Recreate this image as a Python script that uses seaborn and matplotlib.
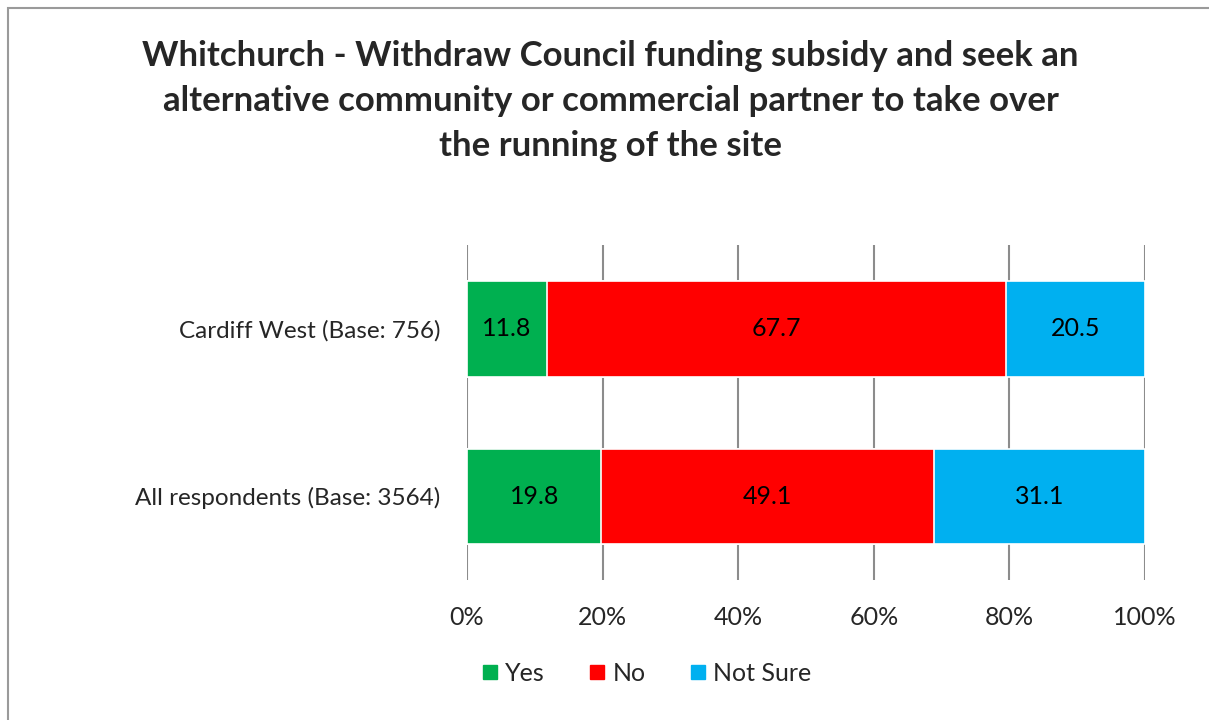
import pandas as pd
import numpy as np
import matplotlib
matplotlib.use('Agg')
import matplotlib.pyplot as plt
import seaborn as sns
from matplotlib.patches import Rectangle
from matplotlib.lines import Line2D

# Data
groups = ['Cardiff West (Base: 756)', 'All respondents (Base: 3564)']
yes = [11.8, 19.8]
no = [67.7, 49.1]
not_sure = [20.5, 31.1]
answers = ['Yes', 'No', 'Not Sure']
colors = ['#00B050', '#FF0000', '#00B0F0']
title = ('Whitchurch - Withdraw Council funding subsidy and seek an\n'
         'alternative community or commercial partner to take over\n'
         'the running of the site')

sns.set_style('white')
plt.rcParams['font.family'] = ['Lato', 'DejaVu Sans']

df = pd.DataFrame({'group': groups, 'Yes': yes, 'No': no, 'Not Sure': not_sure})
df['c_yes'] = df['Yes']
df['c_no'] = df['Yes'] + df['No']
df['c_ns'] = df['c_no'] + df['Not Sure']

fig = plt.figure(figsize=(12.09, 7.2), dpi=100)
ax = fig.add_axes([0.3863, 0.1944, 0.5608, 0.4653])

# stacked bars drawn back to front (cumulative totals)
for col, c in zip(['c_ns', 'c_no', 'c_yes'], colors[::-1]):
    sns.barplot(data=df, x=col, y='group', orient='h', color=c, width=0.57,
                edgecolor='white', linewidth=1.2, ax=ax, saturation=1)

# value labels in the middle of each segment
for i in range(len(groups)):
    start = 0
    for v in [yes[i], no[i], not_sure[i]]:
        ax.text(start + v / 2, i, f'{v:.1f}', ha='center', va='center',
                fontsize=18, color='black')
        start += v

ax.set_xlim(0, 100)
ax.set_ylim(1.5, -0.5)
ax.set_xticks(np.arange(0, 101, 20))
ax.set_xticklabels([f'{t}%' for t in range(0, 101, 20)])
ax.xaxis.grid(True, color='#8c8c8c', linewidth=1.5)
ax.set_axisbelow(True)
ax.tick_params(axis='x', length=0, pad=19, labelsize=18)
ax.tick_params(axis='y', length=0, pad=19, labelsize=17.5)
ax.set_xlabel('')
ax.set_ylabel('')
for s in ax.spines.values():
    s.set_visible(False)

fig.text(0.505, 0.945, title, ha='center', va='top', fontsize=25,
         fontweight='bold', linespacing=1.5)

handles = [Line2D([0], [0], marker='s', linestyle='', markersize=10,
                  markerfacecolor=c, markeredgecolor=c) for c in colors]
fig.legend(handles, answers, loc='center', bbox_to_anchor=(0.533, 0.065),
           ncol=3, frameon=False, fontsize=18, handletextpad=0.1,
           columnspacing=1.6, handlelength=1.0)

# outer chart border
fig.patches.append(Rectangle((8 / 1209, -0.1), 1.2, 1 - 8 / 720 + 0.1,
                             transform=fig.transFigure, fill=False,
                             edgecolor='#9a9a9a', linewidth=1.5))

fig.savefig('out.png', dpi=100)
